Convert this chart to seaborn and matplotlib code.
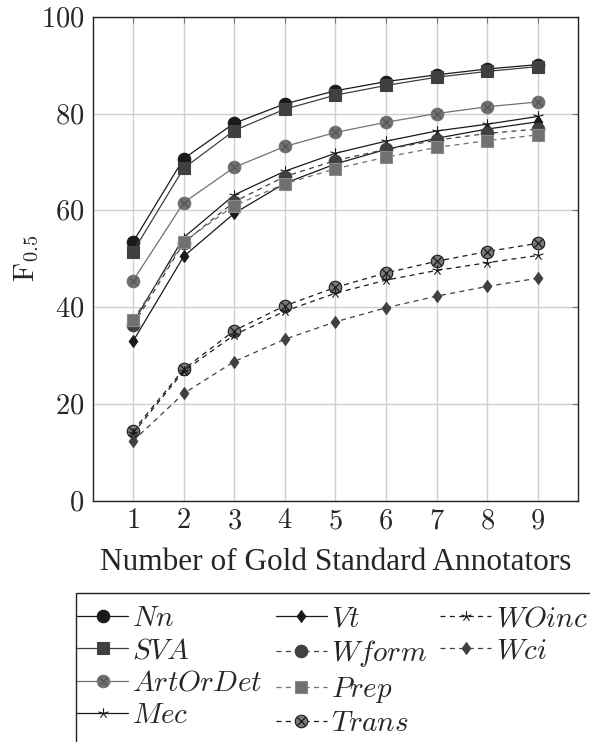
import numpy as np
import pandas as pd
import matplotlib
matplotlib.use("Agg")
import matplotlib.pyplot as plt
from matplotlib.path import Path
from matplotlib.lines import Line2D
from matplotlib.patches import Rectangle
from matplotlib.legend_handler import HandlerTuple
import seaborn as sns

# ---------------- data ----------------
annotators = [1, 2, 3, 4, 5, 6, 7, 8, 9]
nn       = [53.5, 70.7, 78.0, 82.0, 84.7, 86.6, 88.0, 89.2, 90.1]
sva      = [51.5, 68.7, 76.5, 80.9, 83.8, 85.8, 87.5, 88.7, 89.7]
artordet = [45.5, 61.6, 68.9, 73.2, 76.1, 78.2, 80.0, 81.4, 82.4]
mec      = [36.8, 54.4, 63.2, 68.1, 71.8, 74.3, 76.4, 77.8, 79.4]
vt       = [33.0, 50.5, 59.4, 65.6, 69.6, 72.6, 74.9, 76.8, 78.3]
wform    = [36.3, 53.3, 61.8, 67.0, 70.3, 72.6, 74.5, 75.9, 76.8]
prep     = [37.4, 53.5, 61.0, 65.5, 68.6, 71.0, 73.0, 74.4, 75.6]
trans    = [14.5, 27.2, 35.2, 40.3, 44.1, 47.1, 49.5, 51.5, 53.2]
woinc    = [14.0, 26.8, 34.3, 39.2, 42.9, 45.6, 47.6, 49.2, 50.7]
wci      = [12.4, 22.2, 28.8, 33.4, 37.0, 39.9, 42.3, 44.3, 46.0]

series_names = ["Nn", "SVA", "ArtOrDet", "Mec", "Vt", "Wform", "Prep", "Trans", "WOinc", "Wci"]
series_vals = [nn, sva, artordet, mec, vt, wform, prep, trans, woinc, wci]
yticks = [0, 20, 40, 60, 80, 100]

df = pd.DataFrame({
    "n": np.tile(annotators, len(series_names)),
    "F": np.concatenate(series_vals),
    "series": np.repeat(series_names, len(annotators)),
})

# ---------------- style ----------------
sns.set_theme(style="white")
plt.rcParams["font.family"] = ["Liberation Serif", "DejaVu Serif"]
plt.rcParams["mathtext.fontset"] = "cm"

# star marker (5 spokes)
verts, codes = [], []
for k in range(5):
    a = np.deg2rad(90 + 72 * k)
    verts += [(0, 0), (np.cos(a), np.sin(a))]
    codes += [Path.MOVETO, Path.LINETO]
star = Path(verts, codes)
diamond = Path([(0, 1), (0.72, 0), (0, -1), (-0.72, 0), (0, 1)],
               [Path.MOVETO, Path.LINETO, Path.LINETO, Path.LINETO, Path.CLOSEPOLY])

BLACK = "#1a1a1a"
DARK = "#404040"
GRAY = "#707070"
dash = (0, (4, 3.5))

styles = {
    "Nn":       dict(color=BLACK, ls="-",  marker="o", mfc=BLACK, mec=BLACK, ms=9, ox=False),
    "SVA":      dict(color=DARK,  ls="-",  marker="s", mfc=DARK,  mec=DARK,  ms=8.5, ox=False),
    "ArtOrDet": dict(color=GRAY,  ls="-",  marker="o", mfc=GRAY,  mec=GRAY,  ms=9, ox=True, xc="#555555"),
    "Mec":      dict(color=BLACK, ls="-",  marker=star, mfc="none", mec=BLACK, ms=7.5, ox=False),
    "Vt":       dict(color=BLACK, ls="-",  marker=diamond, mfc=BLACK, mec=BLACK, ms=8.5, ox=False),
    "Wform":    dict(color=DARK,  ls=dash, marker="o", mfc=DARK,  mec=DARK,  ms=9, ox=False),
    "Prep":     dict(color=GRAY,  ls=dash, marker="s", mfc=GRAY,  mec="#8a8a8a", ms=8.5, ox=False),
    "Trans":    dict(color=BLACK, ls=dash, marker="o", mfc="#7a7a7a", mec=BLACK, ms=9, ox=True, xc=BLACK),
    "WOinc":    dict(color=BLACK, ls=dash, marker=star, mfc="none", mec=BLACK, ms=7.5, ox=False),
    "Wci":      dict(color=DARK,  ls=dash, marker=diamond, mfc=DARK, mec=DARK, ms=8.5, ox=False),
}

fig = plt.figure(figsize=(5.9, 7.42), dpi=100)
ax = fig.add_axes([0.157, 0.3248, 0.823, 0.6527])

for name in series_names:
    st = styles[name]
    sub = df[df["series"] == name]
    sns.lineplot(data=sub, x="n", y="F", ax=ax, color=st["color"], linestyle=st["ls"],
                 linewidth=0.9, marker=st["marker"], markersize=st["ms"],
                 markerfacecolor=st["mfc"], markeredgecolor=st["mec"],
                 markeredgewidth=0.8, errorbar=None, legend=False, zorder=3)
    if st["ox"]:
        sns.lineplot(data=sub, x="n", y="F", ax=ax, linestyle="none", marker="x",
                     markersize=st["ms"] * 0.62, markeredgecolor=st["xc"],
                     markeredgewidth=0.9, color=st["xc"], errorbar=None, legend=False, zorder=4)

ax.set_xlim(0.2, 9.8)
ax.set_ylim(0, 100)
ax.set_xticks(annotators)
ax.set_xticklabels([f"${v}$" for v in annotators])
ax.set_yticks(yticks)
ax.set_yticklabels([f"${v}$" for v in yticks])
ax.grid(True, color="#cfcfcf", linewidth=1.0, zorder=0)
ax.set_axisbelow(True)
ax.tick_params(axis="both", which="both", direction="in", length=4, width=0.8,
               color="#777777", labelsize=20.5, top=True, right=True, pad=6)
for sp in ax.spines.values():
    sp.set_color("#222222")
    sp.set_linewidth(1.0)
ax.set_xlabel("Number of Gold Standard Annotators", fontsize=22.5, labelpad=10)
ax.set_ylabel(r"$\mathrm{F}_{0.5}$", fontsize=21, labelpad=0)

# ---------------- legend ----------------
def make_handle(name):
    st = styles[name]
    base = Line2D([], [], color=st["color"], linestyle=st["ls"], linewidth=0.9,
                  marker=st["marker"], markersize=st["ms"], markerfacecolor=st["mfc"],
                  markeredgecolor=st["mec"], markeredgewidth=0.8)
    if st["ox"]:
        xh = Line2D([], [], linestyle="none", marker="x", markersize=st["ms"] * 0.62,
                    markeredgecolor=st["xc"], markeredgewidth=0.9)
        return (base, xh)
    return base

order = ["Nn", "SVA", "ArtOrDet", "Mec", "Vt", "Wform", "Prep", "Trans", "WOinc", "Wci"]
handles = [make_handle(n) for n in order]
labels = [f"${n}$" for n in order]
blank = Line2D([], [], linestyle="none")
handles += [blank, blank]
labels += ["", ""]

leg = fig.legend(handles, labels, loc="upper left", bbox_to_anchor=(77 / 590, 1 - 606 / 742),
                 bbox_transform=fig.transFigure, ncol=3, fontsize=21, frameon=False,
                 handlelength=1.75, handletextpad=0.15, columnspacing=0.45,
                 labelspacing=0.2, borderpad=0, borderaxespad=0,
                 handler_map={tuple: HandlerTuple(ndivide=1)})

# legend frame (extends beyond the figure, as in the reference)
frame = Rectangle((76 / 590, -0.05), 1.0, (1 - 593 / 742) + 0.05, transform=fig.transFigure,
                  fill=False, edgecolor="#222222", linewidth=1.0)
fig.patches.append(frame)

fig.savefig("out.png", dpi=100)
